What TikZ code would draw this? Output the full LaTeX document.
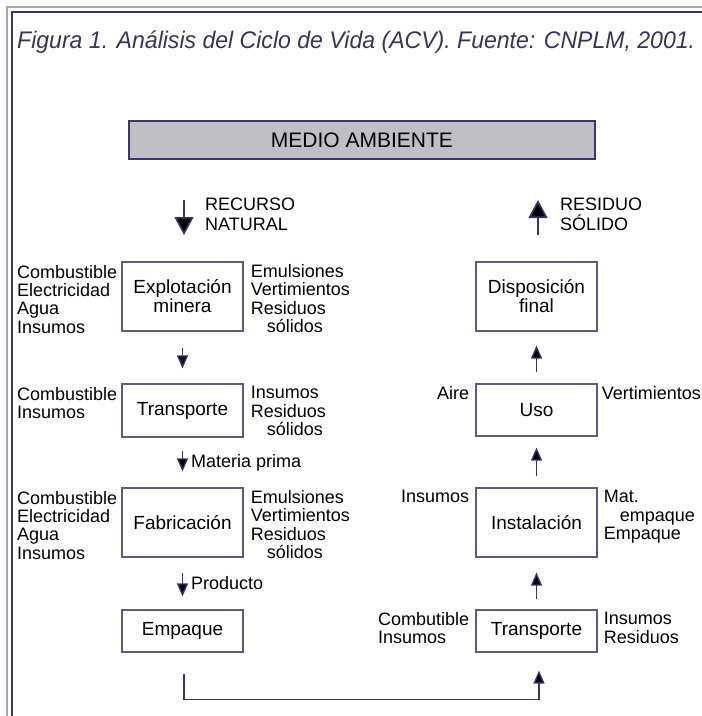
\documentclass[tikz,border=0pt]{standalone}
\usepackage{fontspec}
\setmainfont{Liberation Sans}
\usetikzlibrary{arrows.meta, calc, positioning}
\definecolor{marco}{RGB}{60,52,110}
\definecolor{marcoclaro}{RGB}{165,165,190}
\definecolor{borde}{RGB}{95,90,130}
\definecolor{gris}{RGB}{192,192,196}
\definecolor{titulo}{RGB}{55,53,88}
\tikzset{
  caja/.style={draw=borde, line width=1.2pt, minimum width=121pt, align=center, inner sep=0pt, font=\fontsize{19}{19}\selectfont},
  lbl/.style={align=left, inner sep=0pt},
  flecha/.style={draw=marco, line width=1.3pt, -{Triangle[width=11pt, length=13pt, fill=black]}},
  flechagrande/.style={draw=marco, line width=1.6pt, -{Triangle[width=19pt, length=18pt, fill=black]}}
}

\begin{document}
\begin{tikzpicture}[x=1pt, y=-1pt, font=\fontsize{18}{18.3}\selectfont]
        \useasboundingbox (0,0) rectangle (702,716);
        \coordinate (rn1) at (184,200);
        \coordinate (rn2) at (184,235);
        \coordinate (rs1) at (538,235);
        \coordinate (rs2) at (538,200);
        \draw[marcoclaro, line width=2pt] (7,716) -- (7,7) -- (702,7);
        \draw[marco, line width=1.5pt] (12,716) -- (12,12) -- (702,12);
        \node[anchor=base west, text=titulo, inner sep=0pt, font=\fontsize{24}{26}\selectfont\itshape] (tit) at (17,48) {\resizebox{678pt}{\height}{Figura 1. Análisis del Ciclo de Vida (ACV). Fuente: CNPLM, 2001.}};
        \node[caja, fill=gris, draw=marco, line width=2.5pt, minimum width=466pt, minimum height=38pt, font=\fontsize{21}{24}\selectfont] (medio) at (362,140) {MEDIO AMBIENTE};
        \draw[flechagrande] (rn1) -- (rn2);
        \draw[flechagrande] (rs1) -- (rs2);
        \node[lbl, anchor=north west, font=\fontsize{18}{20}\selectfont] (recurso) at (205,198) {RECURSO\\NATURAL};
        \node[lbl, anchor=north west, font=\fontsize{18}{20}\selectfont] (residuo) at (560,198) {RESIDUO\\SÓLIDO};
        % ciclo de vida
        \node[caja, minimum height=69pt] (expl) at (182.5,296.5) {Explotación\\minera};
        \node[caja, minimum height=53pt] (trans) at (182.5,410.5) {Transporte};
        \node[caja, minimum height=69pt] (fab) at (182.5,522.5) {Fabricación};
        \node[caja, minimum height=42pt] (emp) at (182.5,631) {Empaque};
        \node[caja, minimum height=69pt] (disp) at (536.5,296.5) {Disposición\\final};
        \node[caja, minimum height=52pt] (uso) at (536.5,410) {Uso};
        \node[caja, minimum height=69pt] (inst) at (536.5,522.5) {Instalación};
        \node[caja, minimum height=42pt] (trans2) at (536.5,631) {Transporte};
        % entradas y salidas
        \node[lbl, anchor=north west] (explE) at (17,265) {Combustible\\Electricidad\\Agua\\Insumos};
        \node[lbl, right=7pt of expl.north east, anchor=north west, yshift=-3pt] (explS) {Emulsiones\\Vertimientos\\Residuos\\\hspace*{16pt}sólidos};
        \node[lbl, anchor=north west] (transE) at (17,387) {Combustible\\Insumos};
        \node[lbl, right=7pt of trans.north east, anchor=north west, yshift=-3pt] (transS) {Insumos\\Residuos\\\hspace*{16pt}sólidos};
        \node[lbl, anchor=north west] (fabE) at (17,491) {Combustible\\Electricidad\\Agua\\Insumos};
        \node[lbl, right=7pt of fab.north east, anchor=north west, yshift=-3pt] (fabS) {Emulsiones\\Vertimientos\\Residuos\\\hspace*{16pt}sólidos};
        \node[lbl, left=6pt of uso.north west, anchor=north east, yshift=-3pt] (usoE) {Aire};
        \node[lbl, right=4pt of uso.north east, anchor=north west, yshift=-3pt] (usoS) {Vertimientos};
        \node[lbl, left=6pt of inst.north west, anchor=north east, yshift=-3pt] (instE) {Insumos};
        \node[lbl, right=6pt of inst.north east, anchor=north west, yshift=-3pt] (instS) {Mat.\\\hspace*{16pt}empaque\\Empaque};
        \node[lbl, left=6pt of trans2.north west, anchor=north east, yshift=-3pt] (trans2E) {Combutible\\Insumos};
        \node[lbl, right=6pt of trans2.north east, anchor=north west, yshift=-3pt] (trans2S) {Insumos\\Residuos};
        % flechas
        \draw[flecha, shorten <=16pt, shorten >=15pt] (expl) -- (trans);
        \draw[flecha, shorten <=13pt, shorten >=16pt] (trans) -- node[lbl, right=8pt] (mat) {Materia prima} (fab);
        \draw[flecha, shorten <=15pt, shorten >=13pt] (fab) -- node[lbl, right=8pt] (prod) {Producto} (emp);
        \draw[flecha] ($(emp.south)+(1.5,21)$) -- ++(0,26) -| ($(trans2.south)+(2.5,18)$);
        \draw[flecha, shorten <=10pt, shorten >=15pt] (trans2) -- (inst);
        \draw[flecha, shorten <=11pt, shorten >=11pt] (inst) -- (uso);
        \draw[flecha, shorten <=11pt, shorten >=14pt] (uso) -- (disp);
\end{tikzpicture}
\end{document}
